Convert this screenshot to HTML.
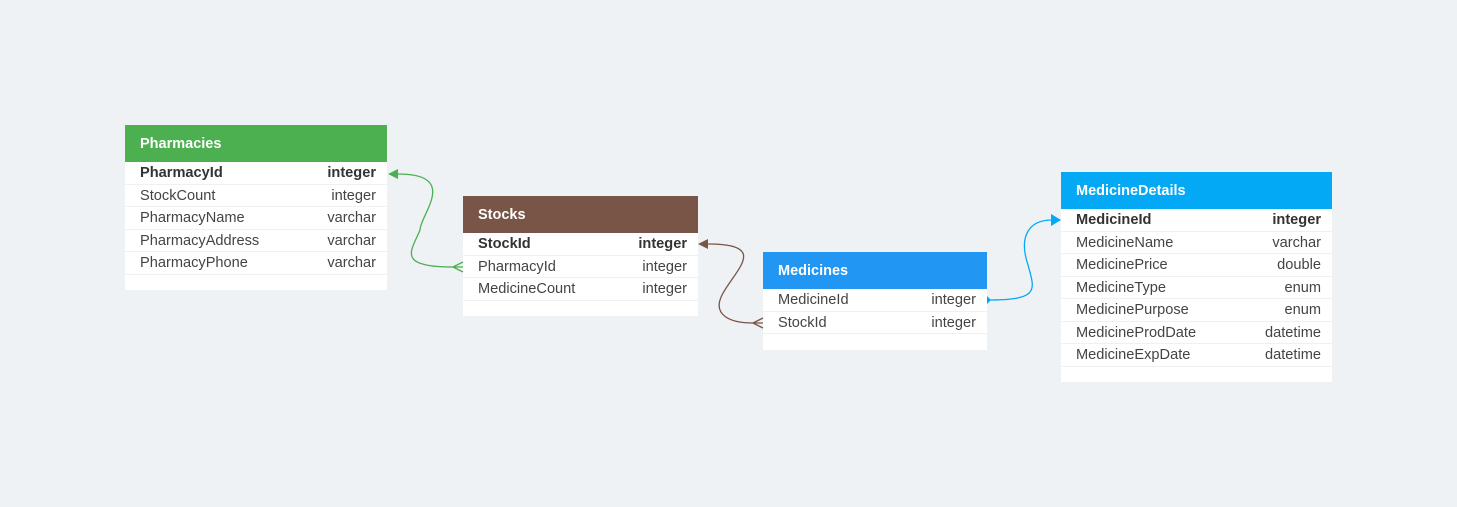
<!DOCTYPE html>
<html><head><meta charset="utf-8"><style>
body{margin:0;width:1457px;height:507px;background:#eef2f5;position:relative;overflow:hidden;font-family:"Liberation Sans",Arial,sans-serif;}
.t{position:absolute;background:#fff;}
.h{height:37px;color:#fff;font-weight:bold;font-size:14.5px;line-height:37px;padding-left:15px;padding-top:1px;box-sizing:border-box;}
.r{height:22.5px;line-height:23px;font-size:14.6px;color:#444;border-bottom:1.5px solid #eef1f3;box-sizing:border-box;padding:0 11px 0 15px;display:flex;justify-content:space-between;}
.r.b{font-weight:bold;color:#333;}
svg{position:absolute;left:0;top:0;}
</style></head><body>
<div class="t" style="left:125px;top:125px;width:262px;height:165px">
<div class="h" style="background:#4caf50">Pharmacies</div>
<div class="r b"><span>PharmacyId</span><span>integer</span></div>
<div class="r"><span>StockCount</span><span>integer</span></div>
<div class="r"><span>PharmacyName</span><span>varchar</span></div>
<div class="r"><span>PharmacyAddress</span><span>varchar</span></div>
<div class="r"><span>PharmacyPhone</span><span>varchar</span></div>
</div>
<div class="t" style="left:463px;top:196px;width:235px;height:120px">
<div class="h" style="background:#795548">Stocks</div>
<div class="r b"><span>StockId</span><span>integer</span></div>
<div class="r"><span>PharmacyId</span><span>integer</span></div>
<div class="r"><span>MedicineCount</span><span>integer</span></div>
</div>
<div class="t" style="left:763px;top:252px;width:224px;height:98px">
<div class="h" style="background:#2196f3">Medicines</div>
<div class="r"><span>MedicineId</span><span>integer</span></div>
<div class="r"><span>StockId</span><span>integer</span></div>
</div>
<div class="t" style="left:1061px;top:172px;width:271px;height:210px">
<div class="h" style="background:#03a9f4">MedicineDetails</div>
<div class="r b"><span>MedicineId</span><span>integer</span></div>
<div class="r"><span>MedicineName</span><span>varchar</span></div>
<div class="r"><span>MedicinePrice</span><span>double</span></div>
<div class="r"><span>MedicineType</span><span>enum</span></div>
<div class="r"><span>MedicinePurpose</span><span>enum</span></div>
<div class="r"><span>MedicineProdDate</span><span>datetime</span></div>
<div class="r"><span>MedicineExpDate</span><span>datetime</span></div>
</div>
<svg width="1457" height="507" fill="none">
<path d="M398,174 C460,174 420,215 420,230 C412,250 395,267 453,267 L463,267" stroke="#4caf50" stroke-width="1.3"/>
<polygon points="388,174 398,169 398,179" fill="#4caf50"/>
<path d="M453,267 L463,262 M453,267 L463,272" stroke="#4caf50" stroke-width="1.3"/>
<path d="M708,244 C770,244 735,270 722,295 C712,315 730,323 753,323 L763,323" stroke="#795548" stroke-width="1.3"/>
<polygon points="698,244 708,239 708,249" fill="#795548"/>
<path d="M753,323 L763,318 M753,323 L763,328" stroke="#795548" stroke-width="1.3"/>
<path d="M988,300 C1040,300 1035,290 1028,265 C1018,235 1030,220 1052,220" stroke="#03a9f4" stroke-width="1.3"/>
<polygon points="1061,220 1051,214 1051,226" fill="#03a9f4"/>
<path d="M987,296 L991,300 L987,304 Z" fill="#03a9f4"/>
</svg>
</body></html>
